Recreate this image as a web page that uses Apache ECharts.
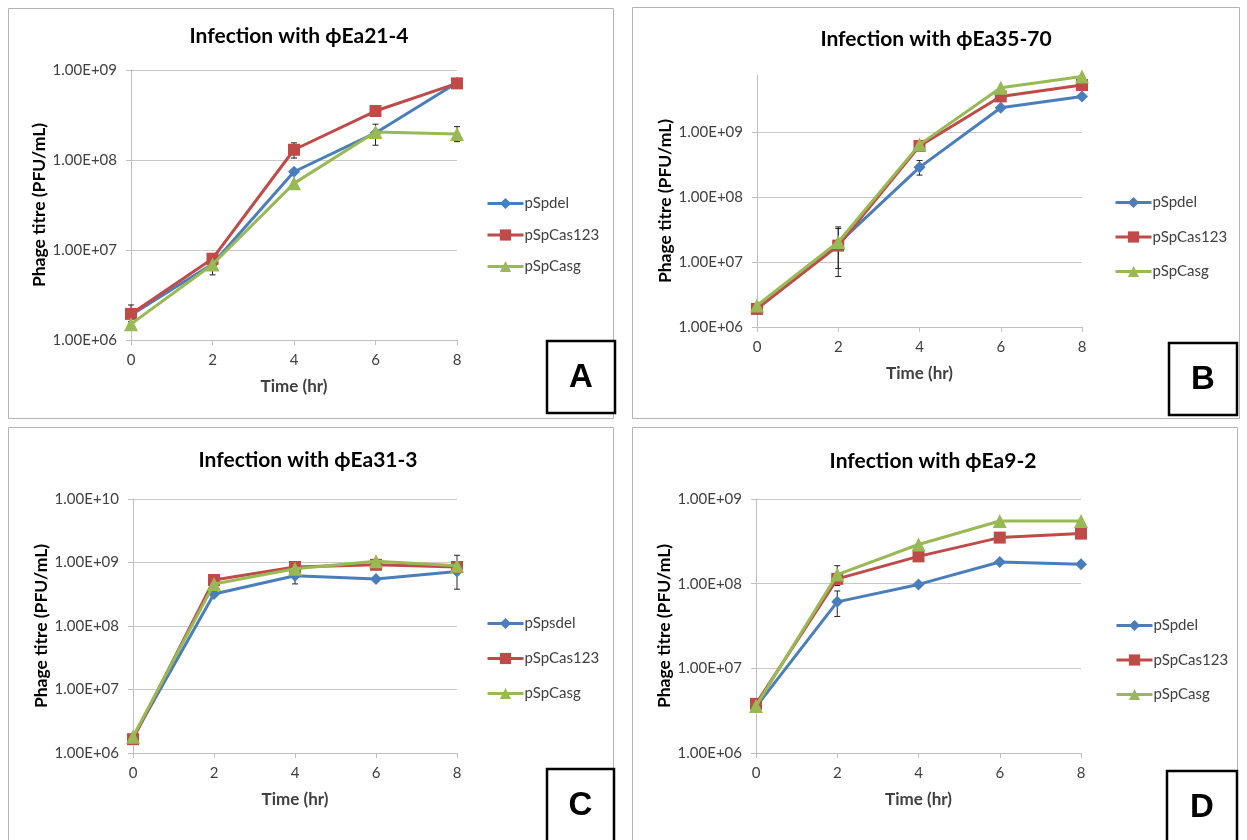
<!DOCTYPE html>
<html>
<head>
<meta charset="utf-8">
<script src="https://cdn.jsdelivr.net/npm/echarts@6/dist/echarts.min.js"></script>
<style>
html,body{margin:0;padding:0;background:#fff;}
#chart{width:1247px;height:840px;}
</style>
</head>
<body>
<div id="chart"></div>
<script>
// ---------- data ----------
const timeHours = [0, 2, 4, 6, 8];
const xTicks = [0, 2, 4, 6, 8];
const titles = ['Infection with ϕEa21-4', 'Infection with ϕEa35-70', 'Infection with ϕEa31-3', 'Infection with ϕEa9-2'];
const panelLetters = ['A', 'B', 'C', 'D'];
const namesABD = ['pSpdel', 'pSpCas123', 'pSpCasg'];
const namesC = ['pSpsdel', 'pSpCas123', 'pSpCasg'];
const xAxisTitle = 'Time (hr)';
const yAxisTitle = 'Phage titre (PFU/mL)';

const A_pSpdel    = [1.9e6, 7.0e6, 7.4e7, 2.0e8, 7.2e8];
const A_pSpCas123 = [1.95e6, 8.0e6, 1.3e8, 3.5e8, 7.1e8];
const A_pSpCasg   = [1.5e6, 6.9e6, 5.5e7, 2.05e8, 1.95e8];

const B_pSpdel    = [2.0e6, 1.95e7, 2.9e8, 2.4e9, 3.6e9];
const B_pSpCas123 = [1.9e6, 1.8e7, 6.2e8, 3.6e9, 5.4e9];
const B_pSpCasg   = [2.15e6, 2.05e7, 6.5e8, 4.9e9, 7.3e9];

const C_pSpsdel   = [1.75e6, 3.2e8, 6.2e8, 5.5e8, 7.2e8];
const C_pSpCas123 = [1.65e6, 5.3e8, 8.5e8, 9.2e8, 8.5e8];
const C_pSpCasg   = [1.8e6, 4.6e8, 8.0e8, 1.05e9, 8.9e8];

const D_pSpdel    = [3.5e6, 6.1e7, 9.8e7, 1.8e8, 1.7e8];
const D_pSpCas123 = [3.8e6, 1.14e8, 2.1e8, 3.5e8, 3.9e8];
const D_pSpCasg   = [3.6e6, 1.28e8, 2.9e8, 5.5e8, 5.5e8];

// error bars: [time, low, high]
const A_err = [[0, 1.6e6, 2.45e6], [2, 5.3e6, 8.8e6], [4, 1.05e8, 1.55e8], [6, 1.46e8, 2.5e8], [8, 1.6e8, 2.35e8]];
const B_err = [[2, 6.0e6, 3.5e7], [2, 8.0e6, 3.3e7], [4, 2.2e8, 3.7e8]];
const C_err = [[4, 4.6e8, 8.0e8], [8, 3.8e8, 1.3e9]];
const D_err = [[2, 4.1e7, 8.2e7], [2, 9.5e7, 1.63e8]];

const yMin = [1e6, 1e6, 1e6, 1e6];
const yMax = [1e9, 7.7e9, 1e10, 1e9];

// ---------- styling ----------
const FONT = 'Lato, "DejaVu Sans", sans-serif';
const colors = ['#4a7ebb', '#be4b48', '#98b954'];
const symbols = ['diamond', 'rect', 'triangle'];
const symbolSizes = [12, 12, 14];
const gridBoxes = [
  {left: 131, top: 70, width: 326, height: 270},
  {left: 757, top: 75, width: 325, height: 252},
  {left: 133, top: 499, width: 324, height: 254},
  {left: 756, top: 499, width: 325, height: 254}
];
const legendPos = [
  {left: 486, top: 196, gap: 16.5},
  {left: 1114, top: 195, gap: 19.5},
  {left: 486, top: 616, gap: 20},
  {left: 1115, top: 618, gap: 19.5}
];
const titlePos = [[299, 36], [936, 39], [308, 460], [933, 461]];
const panelRects = [[8, 8, 605, 410], [632, 7, 607, 411], [8, 427, 605, 430], [632, 427, 605, 430]];
const letterBoxes = [[547, 341, 68, 72], [1169, 343, 68, 72], [547, 769, 67, 80], [1167, 771, 70, 80]];

const panelData = [
  {names: namesABD, vals: [A_pSpdel, A_pSpCas123, A_pSpCasg], err: A_err},
  {names: namesABD, vals: [B_pSpdel, B_pSpCas123, B_pSpCasg], err: B_err},
  {names: namesC, vals: [C_pSpsdel, C_pSpCas123, C_pSpCasg], err: C_err},
  {names: namesABD, vals: [D_pSpdel, D_pSpCas123, D_pSpCasg], err: D_err}
];

function fmtSci(v) {
  const e = Math.log10(v);
  const r = Math.round(e);
  if (Math.abs(e - r) > 1e-6) return '';
  return '1.00E+' + String(r).padStart(2, '0');
}

const grid = [], xAxis = [], yAxis = [], series = [], legend = [], graphic = [];

panelRects.forEach(r => {
  graphic.push({type: 'rect', shape: {x: r[0] + 0.5, y: r[1] + 0.5, width: r[2], height: r[3]},
    style: {fill: 'none', stroke: '#b4b4b4', lineWidth: 1}, z: 0, silent: true});
});

for (let p = 0; p < 4; p++) {
  grid.push(Object.assign({containLabel: false}, gridBoxes[p]));
  xAxis.push({
    type: 'value', gridIndex: p, min: 0, max: 8, interval: 2,
    name: xAxisTitle, nameLocation: 'middle', nameGap: 38,
    nameTextStyle: {fontFamily: FONT, fontWeight: 'bold', fontSize: 17, color: '#404040'},
    axisLine: {show: true, onZero: false, lineStyle: {color: '#bfbfbf', width: 1}},
    axisTick: {show: true, inside: false, length: 5, lineStyle: {color: '#bfbfbf'}},
    axisLabel: {margin: 13, fontFamily: FONT, fontSize: 15, color: '#404040',
      customValues: xTicks},
    splitLine: {show: false}
  });
  yAxis.push({
    type: 'log', logBase: 10, gridIndex: p, min: yMin[p], max: yMax[p],
    name: yAxisTitle, nameLocation: 'middle', nameRotate: 90, nameGap: 82,
    nameTextStyle: {fontFamily: FONT, fontWeight: 'bold', fontSize: 17.5, color: '#000'},
    axisLine: {show: true, lineStyle: {color: '#bfbfbf', width: 1}},
    axisTick: {show: true, inside: false, length: 5, lineStyle: {color: '#bfbfbf'}},
    axisLabel: {margin: 14, fontFamily: FONT, fontSize: 15, color: '#404040', formatter: fmtSci,
      showMaxLabel: p !== 1},
    splitLine: {show: true, showMaxLine: p !== 1, lineStyle: {color: '#c8c8c8', width: 1}}
  });

  const pd = panelData[p];
  // error bars
  series.push({
    type: 'custom', xAxisIndex: p, yAxisIndex: p, z: 1, silent: true,
    data: pd.err,
    encode: {x: 0, y: [1, 2]},
    renderItem: function (params, api) {
      const x = api.value(0);
      const lo = api.coord([x, api.value(1)]);
      const hi = api.coord([x, api.value(2)]);
      const w = 3;
      const st = {stroke: '#222', lineWidth: 1};
      return {type: 'group', children: [
        {type: 'line', shape: {x1: lo[0], y1: lo[1], x2: hi[0], y2: hi[1]}, style: st},
        {type: 'line', shape: {x1: lo[0] - w, y1: lo[1], x2: lo[0] + w, y2: lo[1]}, style: st},
        {type: 'line', shape: {x1: hi[0] - w, y1: hi[1], x2: hi[0] + w, y2: hi[1]}, style: st}
      ]};
    }
  });
  for (let s = 0; s < 3; s++) {
    series.push({
      type: 'line', name: pd.names[s], xAxisIndex: p, yAxisIndex: p, z: 2 + s,
      data: timeHours.map((t, i) => [t, pd.vals[s][i]]),
      symbol: symbols[s], symbolSize: symbolSizes[s], showSymbol: true,
      lineStyle: {color: colors[s], width: 3},
      itemStyle: {color: colors[s]},
      emphasis: {disabled: true},
      animation: false
    });
  }
  legend.push({
    orient: 'vertical', left: legendPos[p].left, top: legendPos[p].top, padding: 0,
    itemGap: legendPos[p].gap, itemWidth: 36, itemHeight: 14,
    lineStyle: {width: 3},
    data: pd.names, selectedMode: false,
    textStyle: {fontFamily: FONT, fontSize: 15, color: '#404040', padding: [0, 0, 0, -4]}
  });
  graphic.push({type: 'text', x: titlePos[p][0], y: titlePos[p][1],
    style: {text: titles[p], fontFamily: FONT, fontWeight: 'bold', fontSize: 21, fill: '#000',
      textAlign: 'center', textVerticalAlign: 'middle'}, z: 10});
  const lb = letterBoxes[p];
  graphic.push({type: 'rect', shape: {x: lb[0], y: lb[1], width: lb[2], height: lb[3]},
    style: {fill: '#fff', stroke: '#000', lineWidth: 2.5}, z: 10});
  graphic.push({type: 'text', x: lb[0] + lb[2] / 2, y: lb[1] + 37,
    style: {text: panelLetters[p], fontFamily: '"Liberation Sans", Arial, sans-serif', fontWeight: 'bold',
      fontSize: 33, fill: '#000', textAlign: 'center', textVerticalAlign: 'middle'}, z: 11});
}

const chart = echarts.init(document.getElementById('chart'), null, {renderer: 'canvas'});
chart.setOption({
  animation: false,
  backgroundColor: '#fff',
  grid, xAxis, yAxis, series, legend, graphic
});
</script>
</body>
</html>
